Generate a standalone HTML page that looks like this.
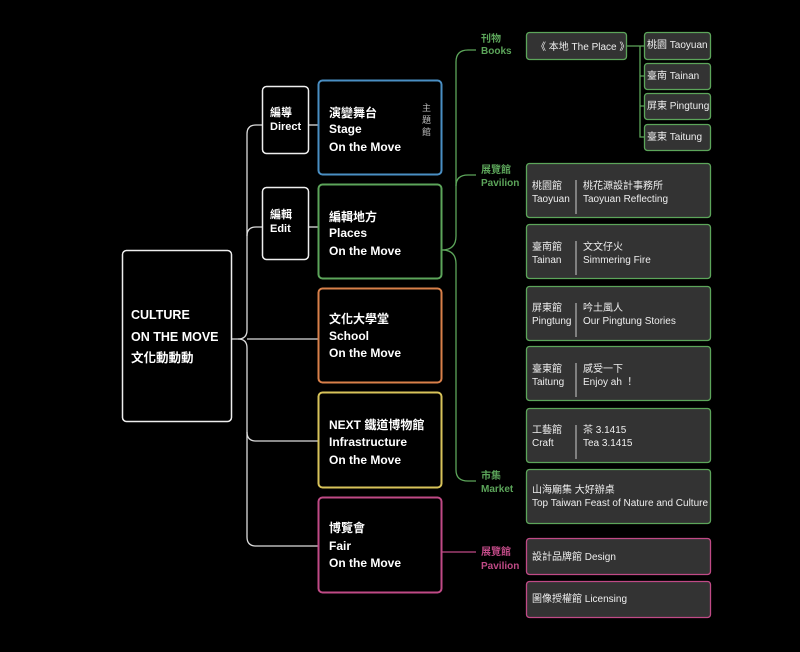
<!DOCTYPE html>
<html><head><meta charset="utf-8"><style>
html,body{margin:0;padding:0;background:#000;}
svg{display:block;}
text{font-family:"Liberation Sans","Noto Sans CJK TC",sans-serif;}
</style></head><body>
<svg width="800" height="652" viewBox="0 0 800 652" xmlns="http://www.w3.org/2000/svg">
<rect width="800" height="652" fill="#000"/>
<!-- left connectors -->
<g fill="none" stroke="#ddd" stroke-width="1.3">
<path d="M231,339 H238 Q247,339 247,330 V134 Q247,125 256,125 H262"/>
<path d="M238,339 Q247,339 247,348 V537 Q247,546 256,546 H318"/>
<path d="M247,236 Q247,227 256,227 H262"/>
<path d="M247,339 H318"/>
<path d="M247,432 Q247,441 256,441 H318"/>
<path d="M308,125 H318"/>
<path d="M308,227 H318"/>
</g>
<!-- green connectors -->
<g fill="none" stroke="#5ca55a" stroke-width="1.3">
<path d="M442,250 Q456,250 456,236 V62 Q456,50 468,50 H476"/>
<path d="M456,186 Q456,175 468,175 H476"/>
<path d="M442,250 Q456,250 456,264 V470 Q456,481 468,481 H476"/>
<path d="M626,46 H644"/>
<path d="M640,46 V137 Q640,137 644,137"/>
<path d="M640,76 H644 M640,106 H644"/>
</g>
<path d="M442,552 H476" stroke="#c04a86" stroke-width="1.3"/>
<!-- main box -->
<rect x="122.5" y="250.5" width="109" height="171" rx="4" fill="#000" stroke="#eee" stroke-width="1.5"/>
<g fill="#fff" font-weight="bold" font-size="12.5">
<text x="131" y="319">CULTURE</text>
<text x="131" y="341">ON THE MOVE</text>
<text x="131" y="362">文化動動動</text>
</g>
<!-- direct/edit -->
<rect x="262.5" y="86.5" width="46" height="67" rx="4" fill="#000" stroke="#eee" stroke-width="1.5"/>
<rect x="262.5" y="187.5" width="46" height="72" rx="4" fill="#000" stroke="#eee" stroke-width="1.5"/>
<g fill="#fff" font-weight="bold" font-size="11">
<text x="270" y="116">編導</text><text x="270" y="130">Direct</text>
<text x="270" y="218">編輯</text><text x="270" y="232">Edit</text>
</g>
<!-- category boxes -->
<g fill="#000" stroke-width="2">
<rect x="318.5" y="80.5" width="123" height="94" rx="4" stroke="#4a8fc4"/>
<rect x="318.5" y="184.5" width="123" height="94" rx="4" stroke="#5ca55a"/>
<rect x="318.5" y="288.5" width="123" height="94" rx="4" stroke="#d9804a"/>
<rect x="318.5" y="392.5" width="123" height="95" rx="4" stroke="#d8c35a"/>
<rect x="318.5" y="497.5" width="123" height="95" rx="4" stroke="#c04a86"/>
</g>
<g fill="#fff" font-weight="bold" font-size="12">
<text x="329" y="117">演變舞台</text><text x="329" y="133">Stage</text><text x="329" y="151">On the Move</text>
<text x="329" y="221">編輯地方</text><text x="329" y="237">Places</text><text x="329" y="255">On the Move</text>
<text x="329" y="323">文化大學堂</text><text x="329" y="340">School</text><text x="329" y="357">On the Move</text>
<text x="329" y="429">NEXT 鐵道博物館</text><text x="329" y="446">Infrastructure</text><text x="329" y="464">On the Move</text>
<text x="329" y="532">博覽會</text><text x="329" y="550">Fair</text><text x="329" y="567">On the Move</text>
</g>
<g fill="#bbb" font-size="9"><text x="422" y="111">主</text><text x="422" y="123">題</text><text x="422" y="135">館</text></g>
<!-- section labels -->
<g fill="#5ca55a" font-size="10" font-weight="bold">
<text x="481" y="42">刊物</text><text x="481" y="54">Books</text>
<text x="481" y="173">展覽館</text><text x="481" y="186">Pavilion</text>
<text x="481" y="479">市集</text><text x="481" y="492">Market</text>
</g>
<g fill="#c04a86" font-size="10" font-weight="bold">
<text x="481" y="555">展覽館</text><text x="481" y="569">Pavilion</text>
</g>
<!-- right boxes -->
<g fill="#333" stroke="#5ca55a" stroke-width="1.3">
<rect x="526.5" y="32.5" width="100" height="27" rx="3"/>
<rect x="644.5" y="32.5" width="66" height="27" rx="3"/>
<rect x="644.5" y="63.5" width="66" height="26" rx="3"/>
<rect x="644.5" y="93.5" width="66" height="26" rx="3"/>
<rect x="644.5" y="124.5" width="66" height="26" rx="3"/>
<rect x="526.5" y="163.5" width="184" height="54" rx="3"/>
<rect x="526.5" y="224.5" width="184" height="54" rx="3"/>
<rect x="526.5" y="286.5" width="184" height="54" rx="3"/>
<rect x="526.5" y="346.5" width="184" height="54" rx="3"/>
<rect x="526.5" y="408.5" width="184" height="54" rx="3"/>
<rect x="526.5" y="469.5" width="184" height="54" rx="3"/>
</g>
<g fill="#333" stroke="#c04a86" stroke-width="1.3">
<rect x="526.5" y="538.5" width="184" height="36" rx="3"/>
<rect x="526.5" y="581.5" width="184" height="36" rx="3"/>
</g>
<g stroke="#ccc" stroke-width="1">
<path d="M576,180 V214 M576,241 V275 M576,303 V337 M576,363 V397 M576,425 V459"/>
</g>
<g fill="#eee" font-size="10">
<text x="536" y="50">《 本地 The Place 》</text>
<text x="647" y="48">桃園 Taoyuan</text>
<text x="647" y="79">臺南 Tainan</text>
<text x="647" y="109">屏東 Pingtung</text>
<text x="647" y="140">臺東 Taitung</text>
<text x="532" y="189">桃園館</text><text x="532" y="202">Taoyuan</text>
<text x="583" y="189">桃花源設計事務所</text><text x="583" y="202">Taoyuan Reflecting</text>
<text x="532" y="250">臺南館</text><text x="532" y="263">Tainan</text>
<text x="583" y="250">文文仔火</text><text x="583" y="263">Simmering Fire</text>
<text x="532" y="311">屏東館</text><text x="532" y="324">Pingtung</text>
<text x="583" y="311">吟土風人</text><text x="583" y="324">Our Pingtung Stories</text>
<text x="532" y="372">臺東館</text><text x="532" y="385">Taitung</text>
<text x="583" y="372">感受一下</text><text x="583" y="385">Enjoy ah ！</text>
<text x="532" y="433">工藝館</text><text x="532" y="446">Craft</text>
<text x="583" y="433">茶 3.1415</text><text x="583" y="446">Tea 3.1415</text>
<text x="532" y="493">山海廟集 大好辦桌</text>
<text x="532" y="506">Top Taiwan Feast of Nature and Culture</text>
<text x="532" y="560">設計品牌館 Design</text>
<text x="532" y="602">圖像授權館 Licensing</text>
</g>
</svg>
</body></html>
